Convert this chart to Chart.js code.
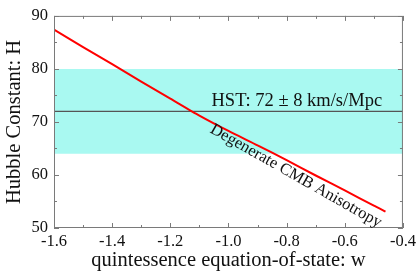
<!DOCTYPE html>
<html>
<head>
<meta charset="utf-8">
<script src="https://cdn.jsdelivr.net/npm/chart.js@4.4.0/dist/chart.umd.min.js"></script>
<style>
  html, body { margin: 0; padding: 0; background: #fff; }
  #wrap { width: 420px; height: 273px; }
</style>
</head>
<body>
<div id="wrap"><canvas id="chart" width="420" height="273"></canvas></div>
<script>
// w values and H
const wValues = [-1.6, -1.5, -1.4, -1.3, -1.2, -1.1, -1.0, -0.9, -0.8, -0.7, -0.6, -0.5, -0.46];
const hValues = [87.4, 84.1, 80.9, 77.6, 74.4, 71.2, 68.3, 65.6, 62.8, 59.9, 57.1, 54.2, 53.1];

const bandX = [-1.6, -0.4];
const bandLow = [64, 64];
const bandHigh = [80, 80];
const hstValue = [72, 72];

const xTicks = [-1.6, -1.4, -1.2, -1.0, -0.8, -0.6, -0.4];
const yTicks = [50, 60, 70, 80, 90];

const serif = "'Liberation Serif', 'Times New Roman', serif";

const toPoints = (xs, ys) => xs.map((x, i) => ({ x: x, y: ys[i] }));

// frame, inward ticks and the two text notes
const decorations = {
    id: 'decorations',
    afterDatasetsDraw(chart) {
        const ctx = chart.ctx;
        const a = chart.chartArea;
        const xs = chart.scales.x;
        const ys = chart.scales.y;
        ctx.save();
        ctx.strokeStyle = '#7a7a7a';
        ctx.lineWidth = 1;
        ctx.strokeRect(a.left + 0.5, a.top + 0.5, a.right - a.left - 1, a.bottom - a.top - 1);

        ctx.beginPath();
        for (let i = 0; i <= 12; i++) {
            const v = -1.6 + i * 0.1;
            const px = Math.round(xs.getPixelForValue(v)) + 0.5;
            const len = i % 2 === 0 ? 5 : 3;
            ctx.moveTo(px, a.bottom); ctx.lineTo(px, a.bottom - len);
            ctx.moveTo(px, a.top); ctx.lineTo(px, a.top + len);
        }
        for (let i = 0; i <= 8; i++) {
            const v = 50 + i * 5;
            const py = Math.round(ys.getPixelForValue(v)) + 0.5;
            const len = i % 2 === 0 ? 5 : 3;
            ctx.moveTo(a.left, py); ctx.lineTo(a.left + len, py);
            ctx.moveTo(a.right, py); ctx.lineTo(a.right - len, py);
        }
        ctx.stroke();

        ctx.fillStyle = '#111';
        ctx.font = '18.5px ' + serif;
        ctx.textAlign = 'center';
        ctx.textBaseline = 'alphabetic';
        ctx.fillText('HST: 72 \u00b1 8 km/s/Mpc', xs.getPixelForValue(-0.765), ys.getPixelForValue(73.1));

        ctx.translate(xs.getPixelForValue(-0.768), ys.getPixelForValue(59.8));
        ctx.rotate(29.5 * Math.PI / 180);
        ctx.font = '16.5px ' + serif;
        ctx.textBaseline = 'middle';
        ctx.fillText('Degenerate CMB Anisotropy', 0, 0);
        ctx.restore();
    }
};

new Chart(document.getElementById('chart'), {
    type: 'line',
    data: {
        datasets: [
            {
                data: toPoints(wValues, hValues),
                borderColor: '#ff0000',
                borderWidth: 2,
                pointRadius: 0,
                tension: 0.2,
                fill: false
            },
            {
                data: toPoints(bandX, hstValue),
                borderColor: '#555555',
                borderWidth: 1.3,
                pointRadius: 0,
                fill: false
            },
            {
                data: toPoints(bandX, bandLow),
                borderWidth: 0,
                pointRadius: 0,
                fill: false
            },
            {
                data: toPoints(bandX, bandHigh),
                borderWidth: 0,
                pointRadius: 0,
                backgroundColor: '#a9f9f1',
                fill: '-1'
            }
        ]
    },
    options: {
        responsive: false,
        animation: false,
        layout: { padding: { top: 10, right: 12, left: 0, bottom: 0 } },
        plugins: {
            legend: { display: false },
            tooltip: { enabled: false },
            filler: { drawTime: 'beforeDatasetsDraw' }
        },
        scales: {
            x: {
                type: 'linear',
                min: -1.6,
                max: -0.4,
                afterFit: scale => { scale.height = 45; },
                afterBuildTicks: scale => { scale.ticks = xTicks.map(v => ({ value: v })); },
                grid: { display: false, drawTicks: false },
                border: { display: false },
                ticks: {
                    padding: 4,
                    color: '#111',
                    font: { family: serif, size: 16.5 },
                    maxRotation: 0,
                    autoSkip: false,
                    callback: v => Number(v).toFixed(1)
                },
                title: {
                    display: true,
                    text: 'quintessence equation-of-state: w',
                    color: '#111',
                    font: { family: serif, size: 20.5 },
                    padding: { top: 0, bottom: 0 }
                }
            },
            y: {
                type: 'linear',
                min: 50,
                max: 90,
                afterFit: scale => { scale.width = 54; },
                afterBuildTicks: scale => { scale.ticks = yTicks.map(v => ({ value: v })); },
                grid: { display: false, drawTicks: false },
                border: { display: false },
                ticks: {
                    padding: 6,
                    color: '#111',
                    font: { family: serif, size: 16.5 }
                },
                title: {
                    display: true,
                    text: 'Hubble Constant: H',
                    color: '#111',
                    font: { family: serif, size: 20.5 },
                    padding: { top: 2, bottom: 0 }
                }
            }
        }
    },
    plugins: [decorations]
});
</script>
</body>
</html>
